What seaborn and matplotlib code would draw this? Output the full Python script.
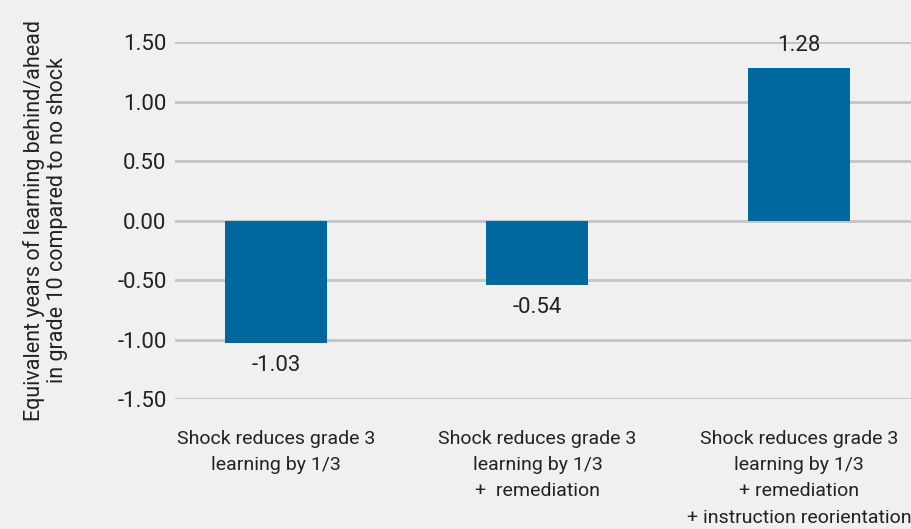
import numpy as np
import pandas as pd
import matplotlib
matplotlib.use('Agg')
import matplotlib.pyplot as plt
import seaborn as sns

# -----------------------

categories = [
	'Shock reduces grade 3\nlearning by 1/3',
	'Shock reduces grade 3\nlearning by 1/3\n+  remediation',
	'Shock reduces grade 3\nlearning by 1/3\n+ remediation\n+ instruction reorientation',
]
values = [-1.03, -0.54, 1.28]
labels = ['-1.03', '-0.54', '1.28']
yticks = [1.5, 1.0, 0.5, 0.0, -0.5, -1.0, -1.5]

BG = '#f0f0f0'
BAR = '#00689f'

# -----------------------

sns.set_style('white')
plt.rcParams['font.family'] = ['Roboto', 'DejaVu Sans']

df = pd.DataFrame({'cat': categories, 'val': values})

fig = plt.figure(figsize=(9.11, 5.29), dpi=100, facecolor=BG)
ax = fig.add_axes([0.192, 0.2457, 0.808, 0.6749])
ax.set_facecolor(BG)

sns.barplot(data=df, x='cat', y='val', color=BAR, width=0.39, saturation=1,
	linewidth=0, ax=ax, zorder=3)

ax.set_ylim(-1.5, 1.5)
ax.set_xlim(-0.386, 2.428)
ax.set_yticks(yticks)
ax.set_yticklabels(['%.2f' % t for t in yticks], fontsize=16, color='#222222')
ax.tick_params(axis='y', length=0, pad=6)
ax.tick_params(axis='x', length=0, pad=22)
ax.set_xticks(range(len(categories)))
ax.set_xticklabels(categories, fontsize=14, color='#222222', va='top', linespacing=1.6)

ax.grid(axis='y', color='#c4c4c4', lw=2, zorder=0)
ax.set_axisbelow(True)
for s in ax.spines.values():
	s.set_visible(False)

for i, (v, lab) in enumerate(zip(values, labels)):
	off = 0.1 if v > 0 else -0.1
	ax.text(i, v + off, lab, ha='center', va='bottom' if v > 0 else 'top',
		fontsize=16, color='#222222')

ax.set_xlabel('')
ax.set_ylabel('Equivalent years of learning behind/ahead\nin grade 10 compared to no shock',
	fontsize=15.5, color='#222222', linespacing=1.15)
ax.yaxis.set_label_coords(-0.145, 0.5)

plt.savefig('out.png', dpi=100, facecolor=BG)
